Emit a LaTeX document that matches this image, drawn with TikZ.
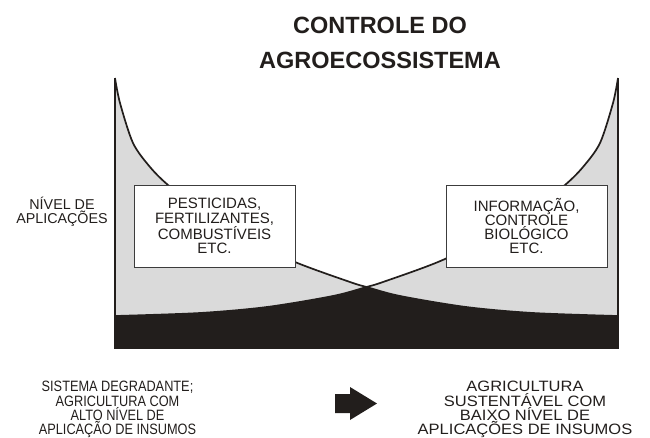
\documentclass[tikz,border=0pt]{standalone}
\usepackage{fontspec}
\setmainfont{Liberation Sans}
\newfontfamily\narrowfont[FakeStretch=0.85]{Liberation Sans}
\newfontfamily\widefont[FakeStretch=1.1]{Liberation Sans}
\definecolor{areagray}{RGB}{218,218,218}
\definecolor{inkdark}{RGB}{34,30,28}
\definecolor{boxline}{RGB}{60,60,60}
\tikzset{
  curveline/.style={draw=inkdark, line width=1.7pt},
  axisline/.style={draw=inkdark, line width=2.4pt},
  infobox/.style={draw=boxline, line width=1pt, fill=white, minimum width=161pt, minimum height=82pt, inner sep=0pt, align=center, font=\fontsize{15}{14.3}\selectfont, text=inkdark},
  caption/.style={align=center, inner sep=0pt, text=inkdark},
}
\begin{document}
\begin{tikzpicture}[x=1pt,y=-1pt]
\useasboundingbox (0,0) rectangle (650,437);
% grey areas under both curves
\fill[areagray] (115,348) -- plot[smooth] coordinates {(115,78) (120,103) (133,143) (150,167) (168,185) (200,210) (240,236) (295,262) (350,282) (366.5,287) (400,296) (466,307) (533,313) (618,316)} -- (618,348) -- cycle;
\fill[areagray] (115,348) -- plot[smooth] coordinates {(115,316) (200,313) (267,307) (333,296) (366.5,287) (383,282) (438,262) (493,236) (533,210) (565,185) (583,167) (600,143) (613,103) (618,78)} -- (618,348) -- cycle;
% black area under both curves
\begin{scope}
  \clip (115,348) -- plot[smooth] coordinates {(115,78) (120,103) (133,143) (150,167) (168,185) (200,210) (240,236) (295,262) (350,282) (366.5,287) (400,296) (466,307) (533,313) (618,316)} -- (618,348) -- cycle;
  \fill[inkdark] (115,348) -- plot[smooth] coordinates {(115,316) (200,313) (267,307) (333,296) (366.5,287) (383,282) (438,262) (493,236) (533,210) (565,185) (583,167) (600,143) (613,103) (618,78)} -- (618,348) -- cycle;
\end{scope}
\draw[curveline] plot[smooth] coordinates {(115,78) (120,103) (133,143) (150,167) (168,185) (200,210) (240,236) (295,262) (350,282) (366.5,287) (400,296) (466,307) (533,313) (618,316)};
\draw[curveline] plot[smooth] coordinates {(115,316) (200,313) (267,307) (333,296) (366.5,287) (383,282) (438,262) (493,236) (533,210) (565,185) (583,167) (600,143) (613,103) (618,78)};
% frame
\draw[axisline] (115,78) -- (115,348) -- (618,348) -- (618,78);
% title
\node[caption, font=\bfseries\fontsize{23.5}{35}\selectfont] (title) at (380,43) {CONTROLE DO\\AGROECOSSISTEMA};
% y label
\node[caption, font=\fontsize{14.3}{11}\selectfont] (ylabel) at (62,212) {NÍVEL DE\\APLICAÇÕES};
% boxes
\node[infobox] (inputs) at (214.5,226) {PESTICIDAS,\\FERTILIZANTES,\\COMBUSTÍVEIS\\ETC.};
\node[infobox] (info) at (526.5,226) {INFORMAÇÃO,\\CONTROLE\\BIOLÓGICO\\ETC.};
% bottom captions
\node[caption, font=\narrowfont\fontsize{15}{14.3}\selectfont] (degrading) at (117.5,409.7) {SISTEMA DEGRADANTE;\\AGRICULTURA COM\\ALTO NÍVEL DE\\APLICAÇÃO DE INSUMOS};
\node[caption, font=\widefont\fontsize{15}{14.3}\selectfont] (sustainable) at (525,409.7) {AGRICULTURA\\SUSTENTÁVEL COM\\BAIXO NÍVEL DE\\APLICAÇÕES DE INSUMOS};
% arrow
\fill[inkdark] (335,394) -- (350,394) -- (350,387) -- (377,403.5) -- (350,420) -- (350,413) -- (335,413) -- cycle;
\end{tikzpicture}
\end{document}
